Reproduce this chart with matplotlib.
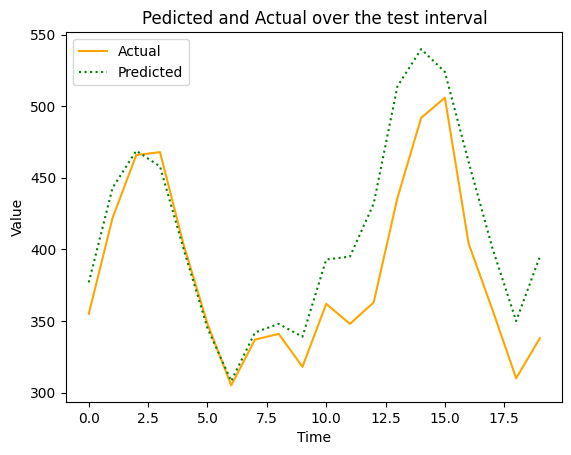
import numpy as np
import matplotlib
matplotlib.use("Agg")
import matplotlib.pyplot as plt

# values
time = np.arange(20)
actual = [355, 422, 466, 468, 403, 348, 305, 337, 341, 318,
          362, 348, 363, 436, 492, 506, 404, 358, 310, 338]
predicted = [377, 443, 469, 458, 400, 345, 308, 342, 348, 339,
             393, 395, 432, 514, 540, 524, 461, 401, 350, 395]

plt.figure(figsize=(5.71, 4.55), dpi=100)
plt.plot(time, actual, color='orange', label='Actual')
plt.plot(time, predicted, color='green', linestyle=':', label='Predicted')
plt.title("Pedicted and Actual over the test interval")
plt.xlabel("Time")
plt.ylabel("Value")
plt.legend(loc='upper left')
plt.subplots_adjust(left=0.116, right=0.985, bottom=0.116, top=0.929)
plt.savefig("out.png")
